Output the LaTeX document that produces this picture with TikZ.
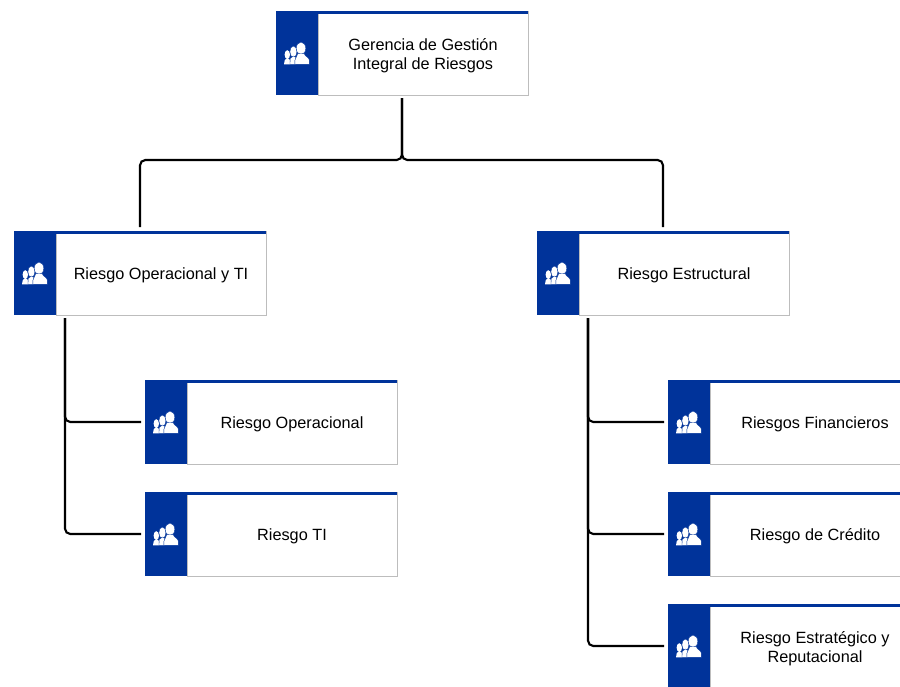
\documentclass[tikz,border=0pt]{standalone}
\usepackage{fontspec}
\setmainfont{Liberation Sans}
\usetikzlibrary{calc,positioning}

\definecolor{tabblue}{HTML}{00339A}
\definecolor{boxgray}{HTML}{BDBDBD}

\tikzset{
    tabbox/.style={fill=tabblue,inner sep=0pt,outer sep=0pt,minimum width=31.5pt,minimum height=63pt},
    unitbox/.style={
        draw=boxgray,line width=.7pt,fill=white,inner sep=0pt,outer sep=0pt,
        minimum width=157.5pt,minimum height=63pt,
        align=center,font=\fontsize{12.2}{14.25}\selectfont,
        execute at begin node={\rule{0pt}{12pt}}
    },
    link/.style={line width=1.6pt,rounded corners=4pt},
    pics/people/.style={code={
        \begin{scope}[x=.75pt,y=.75pt]
            \fill [white] (-9.7,-1.6) ellipse [x radius=2.7,y radius=4.4];
            \fill [white] (-13,-11.3) -- (-12.2,-7) -- (-9.5,-5) -- (-7,-7) -- (-7,-11.3) -- cycle;
            \fill [white,draw=tabblue,line width=.25pt] (-3.6,1.3) ellipse [x radius=3.5,y radius=5.6];
            \fill [white,draw=tabblue,line width=.25pt] (-7,-11.3) -- (-6.8,-5.5) -- (-3.7,-3) -- (-1,-4.5) -- (-1,-11.3) -- cycle;
            \fill [white,draw=tabblue,line width=.3pt] (4,4.7) ellipse [x radius=4.8,y radius=6.2];
            \fill [white,draw=tabblue,line width=.3pt] (-2.2,-11.3) -- (12.4,-11.3) -- (12.4,-7.5)
                .. controls (12.4,-4) and (8,-4) .. (7.2,-0.5) -- (0.8,-0.5)
                .. controls (0,-4) and (-1.5,-4) .. (-2.2,-7.5) -- cycle;
        \end{scope}
    }}
}

\begin{document}
\begin{tikzpicture}
    \path [use as bounding box,clip] (0pt,0pt) rectangle (675pt,-514.5pt);

    % top
    \node (g)  [unitbox] at (317.25pt,-39.75pt) {\rule{0pt}{13pt}Gerencia de Gestión\\Integral de Riesgos};
    \node (g0) [tabbox,left=0pt of g] {};

    % second row
    \node (l)  [unitbox,below=102pt of g,xshift=-196.5pt] {Riesgo Operacional y TI};
    \node (l0) [tabbox,left=0pt of l] {};
    \node (r)  [unitbox,below=102pt of g,xshift=195.75pt] {Riesgo Estructural};
    \node (r0) [tabbox,left=0pt of r] {};

    % left branch
    \node (lo)  [unitbox,below=48.75pt of l,xshift=98.25pt] {Riesgo Operacional};
    \node (lo0) [tabbox,left=0pt of lo] {};
    \node (lt)  [unitbox,below=21pt of lo] {Riesgo TI};
    \node (lt0) [tabbox,left=0pt of lt] {};

    % right branch
    \node (rf)  [unitbox,below=48.75pt of r,xshift=98.25pt] {Riesgos Financieros};
    \node (rf0) [tabbox,left=0pt of rf] {};
    \node (rc)  [unitbox,below=21pt of rf] {Riesgo de Crédito};
    \node (rc0) [tabbox,left=0pt of rc] {};
    \node (re)  [unitbox,below=21pt of rc] {\rule{0pt}{13pt}Riesgo Estratégico y\\Reputacional};
    \node (re0) [tabbox,left=0pt of re] {};

    \foreach \n in {g,l,r,lo,lt,rf,rc,re} {
        \fill [tabblue] ([yshift=.35pt,xshift=-.5pt]\n.north west) rectangle ([xshift=.35pt,yshift=-2.5pt]\n.north east);
        \pic at (\n0) {people};
    }

    \coordinate (gout) at ([xshift=-15.75pt,yshift=-2.25pt]g.south);
    \coordinate (gbus) at ([xshift=-15.75pt,yshift=-48.75pt]g.south);
    \coordinate (ltop) at ([xshift=-15.75pt,yshift=3pt]l.north);
    \coordinate (rtop) at ([xshift=-15.75pt,yshift=3pt]r.north);
    \coordinate (lout) at ([xshift=6.75pt,yshift=-2.25pt]l0.south east);
    \coordinate (rout) at ([xshift=6.75pt,yshift=-2.25pt]r0.south east);

    \draw [link] (gout) -- (gbus) -| (ltop);
    \draw [link] (gout) -- (gbus) -| (rtop);

    \draw [link] (lout) |- ([xshift=-3pt]lo0.west);
    \draw [link] (lout) |- ([xshift=-3pt]lt0.west);
    \draw [link] (rout) |- ([xshift=-3pt]rf0.west);
    \draw [link] (rout) |- ([xshift=-3pt]rc0.west);
    \draw [link] (rout) |- ([xshift=-3pt]re0.west);
\end{tikzpicture}
\end{document}
